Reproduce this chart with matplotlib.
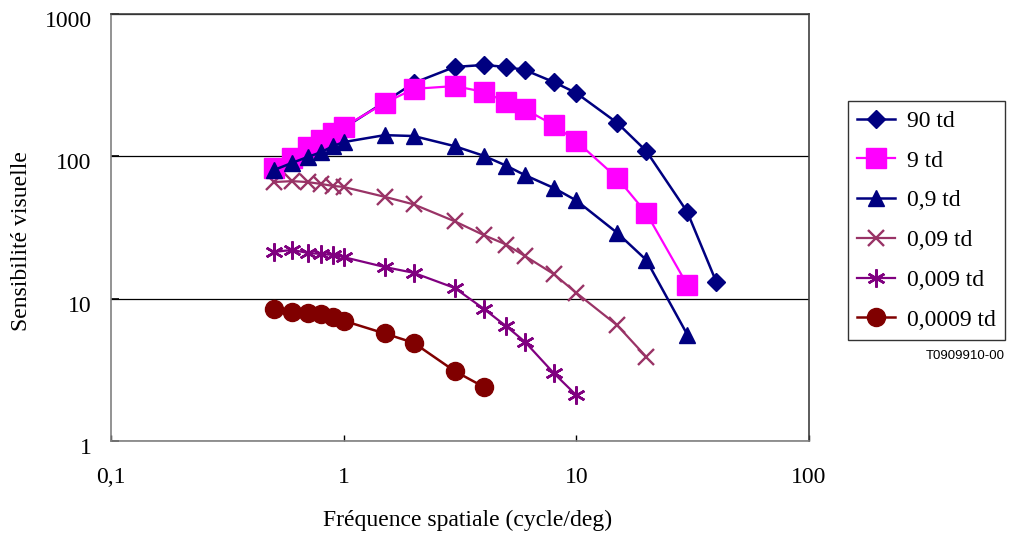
import numpy as np
import matplotlib
matplotlib.use('Agg')
import matplotlib.pyplot as plt
import matplotlib.transforms as mtransforms
from matplotlib.ticker import FixedLocator, FixedFormatter, NullLocator

plt.rcParams['font.family'] = ['Liberation Serif', 'DejaVu Serif']

# spatial frequencies (cycle/deg)
freq_hi = [0.5, 0.6, 0.7, 0.8, 0.9, 1, 1.5, 2, 3, 4, 5, 6, 8, 10, 15, 20, 30, 40]
freq_9 = freq_hi[:-1]
freq_09 = freq_hi[:-1]
freq_009 = freq_hi[:-2]
freq_0009 = freq_hi[:-4]
freq_00009 = freq_hi[:10]

# sensitivity values
s_90 = [83, 94, 112, 126, 142, 158, 241, 328, 425, 439, 425, 405, 333, 279, 172, 109, 40.7, 13.1]
s_9 = [83, 97.5, 116, 130, 146, 161, 237, 298, 312, 284, 241, 215, 166, 128, 70.5, 40, 12.5]
s_09 = [80, 90, 99, 107, 118, 126, 141, 139, 118, 101, 86, 74, 60, 49, 29, 18.7, 5.6]
s_009 = [66, 67, 66, 64, 62, 61, 52, 46, 35, 28, 24, 20, 14.9, 11, 6.5, 3.9]
s_0009 = [21.3, 22, 21, 20.6, 20.3, 19.6, 16.7, 15.2, 11.9, 8.5, 6.4, 5.0, 3.0, 2.1]
s_00009 = [8.5, 8.07, 7.9, 7.8, 7.4, 7.0, 5.7, 4.9, 3.1, 2.4]

labels = ['90 td', '9 td', '0,9 td', '0,09 td', '0,009 td', '0,0009 td']

fig = plt.figure(figsize=(10.1, 5.35), dpi=100)
ax = fig.add_axes([0.1099, 0.1757, 0.691, 0.798])

navy = '#000080'
ax.plot(freq_hi, s_90, color=navy, lw=1.8, marker='D', ms=8.8, label=labels[0], zorder=3)
ax.plot(freq_9, s_9, color='#FF00FF', lw=1.6, marker='s', ms=14, label=labels[1], zorder=4)
ax.plot(freq_09, s_09, color=navy, lw=1.8, marker='^', ms=11, label=labels[2], zorder=5)
ax.plot(freq_009, s_009, color='#993366', lw=1.6, marker='x', ms=11, mew=1.7, label=labels[3], zorder=3)
ax.plot(freq_0009, s_0009, color='#800080', lw=1.6, marker=(6, 2, 0), ms=13, mew=1.8, label=labels[4], zorder=3)
ax.plot(freq_00009, s_00009, color='#800000', lw=1.8, marker='o', ms=13, label=labels[5], zorder=3)

ax.set_xscale('log')
ax.set_yscale('log')
ax.set_xlim(0.1, 100)
ax.set_ylim(1, 1000)

ax.xaxis.set_major_locator(FixedLocator([0.1, 1, 10, 100]))
ax.xaxis.set_major_formatter(FixedFormatter(['0,1', '1', '10', '100']))
ax.yaxis.set_major_locator(FixedLocator([1, 10, 100, 1000]))
ax.yaxis.set_major_formatter(FixedFormatter(['1', '10', '100', '1000']))
ax.xaxis.set_minor_locator(NullLocator())
ax.yaxis.set_minor_locator(NullLocator())

ax.tick_params(axis='x', direction='in', length=4.5, width=1, pad=19, labelsize=17)
ax.tick_params(axis='y', direction='in', length=6, width=1.2, pad=14, labelsize=17)
ax.yaxis.grid(True, color='black', lw=0.9)
ax.set_axisbelow(True)

# y tick labels sit a little below their lines in the original
shift = mtransforms.ScaledTranslation(0, -5 / 100, fig.dpi_scale_trans)
for lab in ax.get_yticklabels():
    lab.set_transform(lab.get_transform() + shift)

for side in ['top', 'right']:
    ax.spines[side].set_color('#404040')
    ax.spines[side].set_linewidth(1.2)
for side in ['left', 'bottom']:
    ax.spines[side].set_color('#808080')
    ax.spines[side].set_linewidth(1.2)

fig.text(22 / 1010, 1 - 241 / 535, 'Sensibilité visuelle', rotation=90,
         ha='center', va='center', fontsize=17)
fig.text(468 / 1010, 1 - 520 / 535, 'Fréquence spatiale (cycle/deg)',
         ha='center', va='center', fontsize=17)

leg = fig.legend(loc='upper left', bbox_to_anchor=(848 / 1010, 1 - 101 / 535),
                 bbox_transform=fig.transFigure, fontsize=17, frameon=True,
                 fancybox=False, edgecolor='black', numpoints=1,
                 handlelength=1.6, handletextpad=0.5, labelspacing=0.77,
                 borderaxespad=0, borderpad=0.4)
leg.get_frame().set_linewidth(1)

fig.text(965 / 1010, 1 - 356 / 535, 'T0909910-00', ha='center', va='center',
         fontsize=9.5, family='Liberation Sans')

fig.savefig('out.png', dpi=100)
